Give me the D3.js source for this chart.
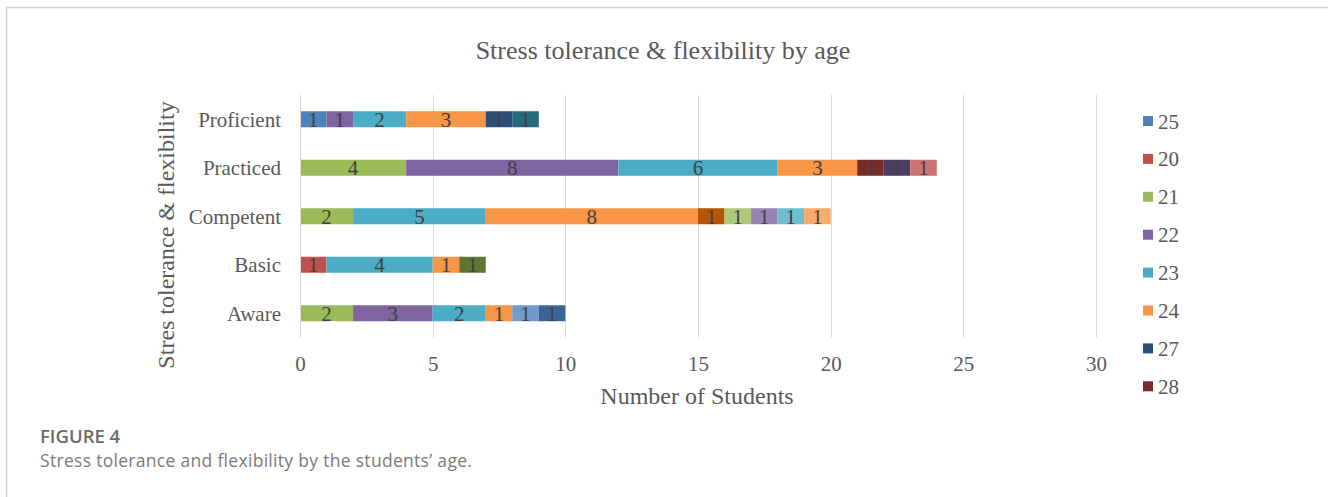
<!DOCTYPE html>
<html>
<head>
<meta charset="utf-8">
<script src="https://cdn.jsdelivr.net/npm/d3@7"></script>
<style>
  html, body { margin: 0; padding: 0; background: #fff; }
  svg { display: block; }
</style>
</head>
<body>
<svg id="chart" width="1328" height="497"></svg>
<script>
// Competency levels (drawn bottom to top) and the age groups stacked in each bar.
const categories = ["Aware", "Basic", "Competent", "Practiced", "Proficient"];

// Age series in stacking order; only the first eight fit in the legend.
const seriesNames = ["25", "20", "21", "22", "23", "24", "27", "28",
                     "s9", "s10", "s11", "s12", "s13", "s14", "s15", "s16", "s17", "s18", "s19"];
const legendCount = 8;

// Students per series, one value per category in the order of `categories`.
const seriesValues = [
  [0, 0, 0, 0, 1], // 25
  [0, 1, 0, 0, 0], // 20
  [2, 0, 2, 4, 0], // 21
  [3, 0, 0, 8, 1], // 22
  [2, 4, 5, 6, 2], // 23
  [1, 1, 8, 3, 3], // 24
  [0, 0, 0, 0, 1], // 27
  [0, 0, 0, 1, 0], // 28
  [0, 1, 0, 0, 0], // s9
  [0, 0, 0, 1, 0], // s10
  [0, 0, 0, 0, 1], // s11
  [0, 0, 1, 0, 0], // s12
  [1, 0, 0, 0, 0], // s13
  [0, 0, 0, 1, 0], // s14
  [0, 0, 1, 0, 0], // s15
  [0, 0, 1, 0, 0], // s16
  [0, 0, 1, 0, 0], // s17
  [0, 0, 1, 0, 0], // s18
  [1, 0, 0, 0, 0]  // s19
];

const seriesColors = ["#4F81BD", "#C0504D", "#9BBB59", "#8064A2", "#4BACC6", "#F79646",
                      "#2C4D75", "#772C2A", "#5F7530", "#4D3B62", "#276A7C", "#B65708",
                      "#729ACA", "#CD7371", "#AFC97A", "#9983B5", "#6FBDD1", "#F9AB6B", "#3A6496"];

const xTicks = [0, 5, 10, 15, 20, 25, 30];

const chartTitle = "Stress tolerance & flexibility by age";
const xTitle = "Number of Students";
const yTitle = "Stres tolerance & flexibility";
const figureLabel = "FIGURE 4";
const figureCaption = "Stress tolerance and flexibility by the students\u2019 age.";

// ---- layout ----
const serif = "'Liberation Serif', 'Times New Roman', serif";
const sans = "'Open Sans', 'Noto Sans', sans-serif";
const textColor = "#595959";
const plot = { left: 300, right: 1096, top: 95, bottom: 337.5 };

const svg = d3.select("#chart");

// Panel frame: top and left rules
svg.append("line").attr("x1", 6).attr("x2", 1328).attr("y1", 7.5).attr("y2", 7.5)
  .attr("stroke", "#d4d4d4").attr("stroke-width", 1.5);
svg.append("line").attr("x1", 6.5).attr("x2", 6.5).attr("y1", 7).attr("y2", 497)
  .attr("stroke", "#d4d4d4").attr("stroke-width", 1.5);

// Table rows for the stack layout
const table = categories.map((c, ci) => {
  const row = { category: c };
  seriesNames.forEach((s, si) => { row[s] = seriesValues[si][ci]; });
  return row;
});
const stacked = d3.stack().keys(seriesNames)(table);

const x = d3.scaleLinear().domain([0, 30]).range([plot.left, plot.right]);
const y = d3.scaleBand()
  .domain(categories.slice().reverse())
  .range([plot.top, plot.bottom])
  .paddingInner(0.67)
  .paddingOuter(0.335);

// Vertical gridlines
svg.append("g")
  .selectAll("line")
  .data(xTicks)
  .join("line")
  .attr("x1", d => Math.round(x(d)) + 0.5)
  .attr("x2", d => Math.round(x(d)) + 0.5)
  .attr("y1", plot.top)
  .attr("y2", plot.bottom)
  .attr("stroke", "#d9d9d9")
  .attr("stroke-width", 1);

// X axis tick labels
const xAxis = d3.axisBottom(x).tickValues(xTicks).tickSize(0).tickPadding(0);
const gx = svg.append("g").attr("transform", `translate(0,${plot.bottom})`).call(xAxis);
gx.select(".domain").remove();
gx.selectAll("text")
  .attr("dy", null)
  .attr("y", 33)
  .attr("fill", textColor)
  .style("font-family", serif)
  .style("font-size", "21px");

// Y axis category labels
const yAxis = d3.axisLeft(y).tickSize(0).tickPadding(0);
const gy = svg.append("g").attr("transform", `translate(${plot.left - 19},0)`).call(yAxis);
gy.select(".domain").remove();
gy.selectAll("text")
  .attr("dy", "0.36em")
  .attr("fill", textColor)
  .style("font-family", serif)
  .style("font-size", "21px");

// Stacked segments
const layers = svg.append("g")
  .selectAll("g")
  .data(stacked)
  .join("g")
  .attr("fill", (d, i) => seriesColors[i]);

layers.selectAll("rect")
  .data(d => d.filter(p => p[1] - p[0] > 0))
  .join("rect")
  .attr("x", p => x(p[0]))
  .attr("width", p => x(p[1]) - x(p[0]))
  .attr("y", p => y(p.data.category))
  .attr("height", y.bandwidth());

// Value labels centred in each segment
const labels = svg.append("g");
stacked.forEach(layer => {
  layer.filter(p => p[1] - p[0] > 0).forEach(p => {
    labels.append("text")
      .attr("x", (x(p[0]) + x(p[1])) / 2)
      .attr("y", y(p.data.category) + y.bandwidth() / 2)
      .attr("dy", "0.36em")
      .attr("text-anchor", "middle")
      .attr("fill", "#404040")
      .style("font-family", serif)
      .style("font-size", "21px")
      .text(p[1] - p[0]);
  });
});

// Left axis line
svg.append("line")
  .attr("x1", plot.left + 0.5).attr("x2", plot.left + 0.5)
  .attr("y1", plot.top).attr("y2", plot.bottom)
  .attr("stroke", "#d9d9d9");

// Titles
svg.append("text")
  .attr("x", 663).attr("y", 59)
  .attr("text-anchor", "middle")
  .attr("fill", textColor)
  .style("font-family", serif)
  .style("font-size", "26px")
  .text(chartTitle);

svg.append("text")
  .attr("x", 697).attr("y", 404)
  .attr("text-anchor", "middle")
  .attr("fill", textColor)
  .style("font-family", serif)
  .style("font-size", "24px")
  .text(xTitle);

svg.append("text")
  .attr("transform", "translate(174,235) rotate(-90)")
  .attr("text-anchor", "middle")
  .attr("fill", textColor)
  .style("font-family", serif)
  .style("font-size", "24px")
  .text(yTitle);

// Legend (first eight series)
const legend = svg.append("g")
  .selectAll("g")
  .data(seriesNames.slice(0, legendCount))
  .join("g")
  .attr("transform", (d, i) => `translate(1143,${121 + i * 37.9})`);
legend.append("rect")
  .attr("x", 0).attr("y", -5)
  .attr("width", 10).attr("height", 10)
  .attr("fill", (d, i) => seriesColors[i]);
legend.append("text")
  .attr("x", 15).attr("dy", "0.36em")
  .attr("fill", textColor)
  .style("font-family", serif)
  .style("font-size", "21px")
  .text(d => d);

// Figure caption
svg.append("text")
  .attr("x", 40).attr("y", 443)
  .attr("fill", "#6b6b6b")
  .style("font-family", sans)
  .style("font-size", "18.5px")
  .style("font-weight", 600)
  .text(figureLabel);
svg.append("text")
  .attr("x", 40).attr("y", 467)
  .attr("fill", "#7a7a7a")
  .style("font-family", sans)
  .style("font-size", "17.5px")
  .style("letter-spacing", "0.3px")
  .text(figureCaption);
</script>
</body>
</html>
